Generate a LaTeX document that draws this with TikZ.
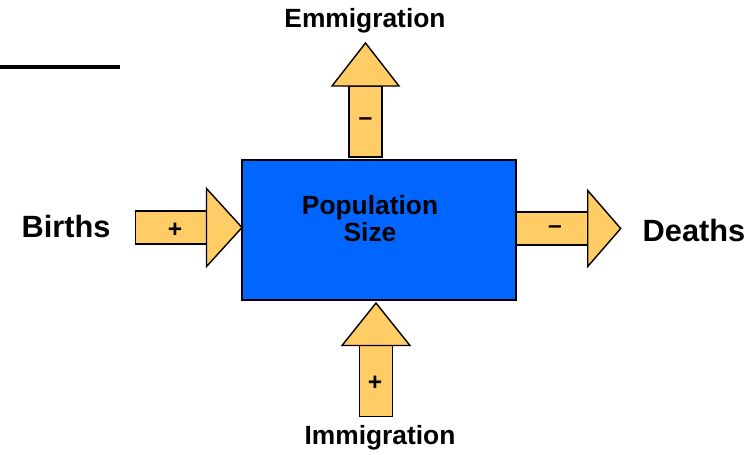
\documentclass[tikz,border=0pt]{standalone}
\usepackage{fontspec}
\setmainfont{Liberation Sans}
\usepackage{tikz}
\usetikzlibrary{calc,positioning}
\definecolor{popblue}{RGB}{0,102,255}
\definecolor{flowgold}{RGB}{255,204,102}
\tikzset{
	flowfill/.style={draw=black, fill=flowgold, line width=.8pt, line join=miter},
	pics/flow/.style args={#1/#2}{code={
		\draw[flowfill] (0,-.33) rectangle (1.42,.33);
		\draw[flowfill] (1.42,-#2) -- ++(#1,#2) -- (1.42,#2) -- cycle;
	}},
	sign/.style={font=\bfseries\fontsize{14}{14}\selectfont},
	flowname/.style={font=\bfseries\fontsize{15}{15.3}\selectfont},
	sidename/.style={font=\bfseries\fontsize{17.5}{17.5}\selectfont},
}

\begin{document}
\begin{tikzpicture}
\useasboundingbox (0,0) rectangle (15.08,-9.08);
% the shapes
\node[draw, fill=popblue, line width=.8pt, minimum width=5.48cm, minimum height=2.8cm,
	inner sep=0pt] at (7.58,-4.6) (pop) {};
\node[align=center, flowname, inner sep=0pt] at (7.4,-4.37) (poptext) {Population\\Size};

% the arrows
\path (2.71,-4.55) pic {flow=.71/.78};
\path (pop.east |- 0,-4.57) pic {flow=.66/.76};
\path (7.31,-3.14) pic[rotate=90] {flow=.86/.67};
\path (7.52,-8.33) pic[rotate=90] {flow=.85/.68};

% the signs
\node[sign] at (3.5,-4.6) (bsign) {+};
\node[sign] at (11.1,-4.6) (dsign) {--};
\node[sign] at (7.31,-2.43) (esign) {--};
\node[sign] at (7.5,-7.66) (isign) {+};

%the names
\node[flowname] at (7.3,-0.42) (emig) {Emmigration};
\node[sidename] at (1.32,-4.52) (births) {Births};
\node[sidename] at (13.88,-4.6) (deaths) {Deaths};
\node[flowname] at (7.6,-8.76) (immig) {Immigration};

%the rule
\coordinate (rulel) at (0,-1.34);
\coordinate (ruler) at (2.4,-1.34);
\draw[line width=2.5pt] (rulel) -- (ruler);
\end{tikzpicture}
\end{document}
